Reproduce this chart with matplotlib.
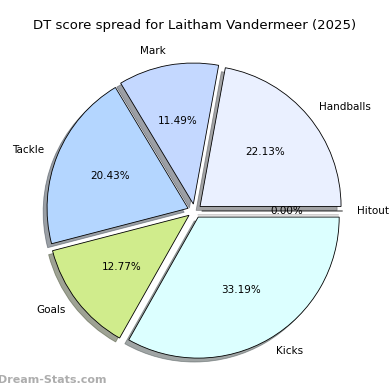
import matplotlib
matplotlib.use('Agg')
import matplotlib.pyplot as plt

labels = ['Handballs', 'Mark', 'Tackle', 'Goals', 'Kicks', 'Hitout']
points = [52, 27, 48, 30, 78, 0]
colours = ['#eaf0ff', '#c4d8ff', '#b4d6ff', '#d0ec8c', '#dcffff', '#ffe0e0']
explode = [0.05] * len(labels)

fig = plt.figure(figsize=(3.9, 3.9), dpi=100)
ax = fig.add_axes([0.047, 0.007, 0.904, 0.904])
ax.pie(points, labels=labels, colors=colours, explode=explode, shadow=True,
       autopct='%1.2f%%', startangle=0, counterclock=True,
       wedgeprops={'edgecolor': 'black', 'linewidth': 0.6},
       textprops={'fontsize': 7.5})
ax.set_aspect('equal')
fig.text(0.5, 1 - 25 / 390, 'DT score spread for Laitham Vandermeer (2025)',
         fontsize=9.5, ha='center', va='center')
fig.text(-0.005, 0.018, 'Dream-Stats.com', fontsize=8, color='#999999',
         fontweight='bold', alpha=0.8)
fig.savefig('out.png', dpi=100)
